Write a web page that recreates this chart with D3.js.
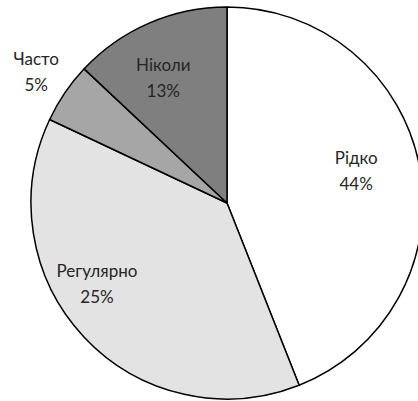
<!DOCTYPE html>
<html>
<head>
<meta charset="utf-8">
<script src="https://cdn.jsdelivr.net/npm/d3@7"></script>
<style>
  body { margin: 0; background: #fff; }
  svg { display: block; }
</style>
</head>
<body>
<div id="chart"></div>
<script>
const categories = ['Рідко', 'Регулярно', 'Часто', 'Ніколи'];
const values = [44, 38, 5, 13];
// labels exactly as printed on the chart
const percentLabels = ['44%', '25%', '5%', '13%'];
const fills = ['#ffffff', '#e3e3e3', '#a6a6a6', '#7f7f7f'];

const width = 418;
const height = 401;
const cx = 227;
const cy = 203;
const radius = 196;

// label placement: radius fraction and angle shift (radians) per slice
const labelPlacement = [
  {r: 0.68, shift: -0.06},
  {r: 0.78, shift: 0.2},
  {r: 1.185, shift: 0.01},
  {r: 0.72, shift: -0.06}
];

const svg = d3.select('#chart').append('svg')
  .attr('width', width)
  .attr('height', height);

const g = svg.append('g')
  .attr('transform', 'translate(' + cx + ',' + cy + ')');

const data = categories.map(function(c, i) {
  return {name: c, value: values[i], label: percentLabels[i], fill: fills[i], place: labelPlacement[i]};
});

const pie = d3.pie()
  .sort(null)
  .value(function(d) { return d.value; });

const arc = d3.arc()
  .innerRadius(0)
  .outerRadius(radius);

const arcs = pie(data);

g.selectAll('path.slice')
  .data(arcs)
  .enter()
  .append('path')
  .attr('class', 'slice')
  .attr('d', arc)
  .attr('fill', function(d) { return d.data.fill; })
  .attr('stroke', '#000')
  .attr('stroke-width', 1.5)
  .attr('stroke-linejoin', 'round');

const labels = g.selectAll('text.label')
  .data(arcs)
  .enter()
  .append('text')
  .attr('class', 'label')
  .attr('text-anchor', 'middle')
  .attr('font-family', 'Lato, "Open Sans", sans-serif')
  .attr('font-size', 17)
  .attr('fill', '#262626')
  .attr('transform', function(d) {
    const a = (d.startAngle + d.endAngle) / 2 + d.data.place.shift;
    const r = radius * d.data.place.r;
    return 'translate(' + (Math.sin(a) * r) + ',' + (-Math.cos(a) * r) + ')';
  });

labels.append('tspan')
  .attr('x', 0)
  .attr('dy', -6)
  .text(function(d) { return d.data.name; });

labels.append('tspan')
  .attr('x', 0)
  .attr('dy', 26)
  .text(function(d) { return d.data.label; });
</script>
</body>
</html>
